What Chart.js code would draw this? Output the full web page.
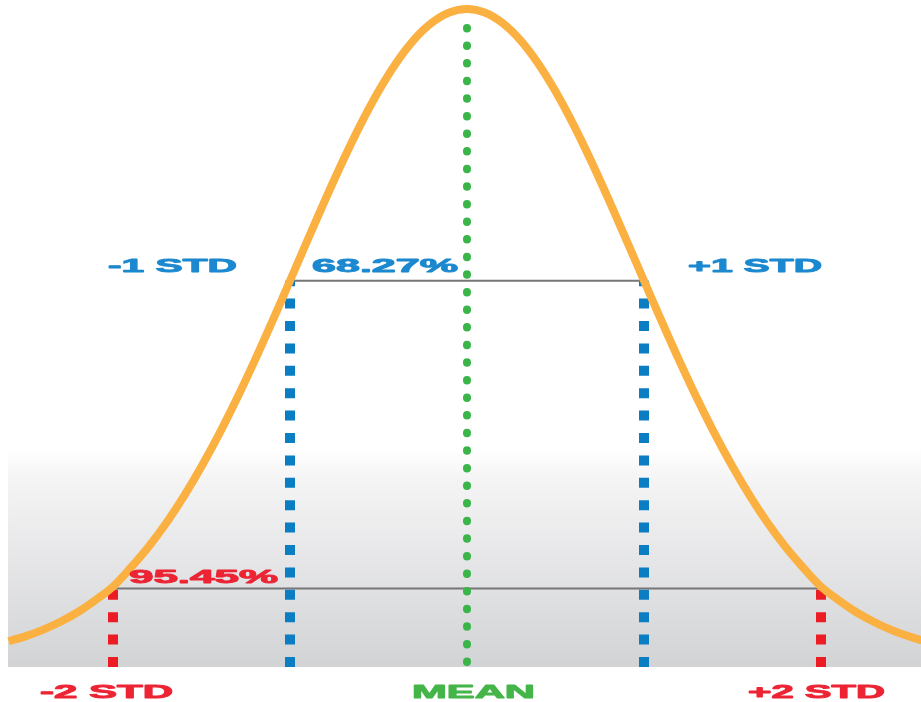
<!DOCTYPE html>
<html>
<head>
<meta charset="utf-8">
<script src="https://cdn.jsdelivr.net/npm/chart.js@4/dist/chart.umd.min.js"></script>
<style>
  html, body { margin: 0; padding: 0; background: #ffffff; }
  canvas { display: block; }
</style>
</head>
<body>
<canvas id="bell" width="921" height="702"></canvas>
<script>
// Bell curve: x in standard deviations from the mean, y as height relative to the peak
const curveX = [-2.59, -2.5, -2.4, -2.3, -2.2, -2.1, -2.0, -1.9, -1.8, -1.7, -1.6, -1.5, -1.4, -1.3,
  -1.2, -1.1, -1.0, -0.9, -0.8, -0.7, -0.6, -0.5, -0.4, -0.3, -0.2, -0.1, 0.0,
  0.1, 0.2, 0.3, 0.4, 0.5, 0.6, 0.7, 0.8, 0.9, 1.0, 1.1, 1.2, 1.3, 1.4, 1.5,
  1.6, 1.7, 1.8, 1.9, 2.0, 2.1, 2.2, 2.3, 2.4, 2.5, 2.57];
const curveY = [0.0258, 0.0330, 0.0430, 0.0555, 0.0705, 0.0890, 0.1100, 0.1390, 0.1710, 0.2075,
  0.2490, 0.2950, 0.3453, 0.3998, 0.4579, 0.5187, 0.5813, 0.6444, 0.7067, 0.7666, 0.8226,
  0.8732, 0.9169, 0.9524, 0.9785, 0.9946, 1.0000,
  0.9946, 0.9785, 0.9524, 0.9169, 0.8732, 0.8226, 0.7666, 0.7067, 0.6444, 0.5813,
  0.5187, 0.4579, 0.3998, 0.3453, 0.2950, 0.2490, 0.2075, 0.1710, 0.1390, 0.1100,
  0.0890, 0.0705, 0.0555, 0.0430, 0.0330, 0.0272];

// Guide positions (in standard deviations) and the levels where the guides stop
const meanAt = 0;
const oneStd = [-1, 1];
const twoStd = [-2, 2];
const oneStdLevel = 0.5813;   // bracket across ±1 std
const twoStdLevel = 0.107;    // bracket across ±2 std
const meanTop = 0.985;
const floorLevel = -0.0139;

// Text labels
const labelTexts = ['-1 STD', '68.27%', '+1 STD', '95.45%', '-2 STD', 'MEAN', '+2 STD'];

const ORANGE = '#fbb042';
const BLUE = '#0b7dc3';
const RED = '#ec1c24';
const GREEN = '#3bb54a';
const GRAY = '#767676';

const toPoints = (xs, ys) => xs.map((x, i) => ({ x, y: ys[i] }));
const vline = (x, y0, y1) => [{ x, y: y0 }, { x, y: y1 }];
const hline = (x0, x1, y) => [{ x: x0, y }, { x: x1, y }];

// Label styling and placement: left edge / baseline / width in canvas pixels
const labelLayout = [
  { color: '#1b88cf', left: 108, base: 272, width: 129 },
  { color: '#1b88cf', left: 312, base: 272, width: 146 },
  { color: '#1b88cf', left: 688, base: 272, width: 134 },
  { color: '#ec2434', left: 129, base: 583, width: 149 },
  { color: '#ec2434', left: 40, base: 698, width: 133 },
  { color: '#45b549', left: 412, base: 698, width: 123 },
  { color: '#ec2434', left: 748, base: 698, width: 137 }
];

// Shaded panel behind the lower part of the curve
const panelPlugin = {
  id: 'panel',
  beforeDatasetsDraw(chart) {
    const { ctx, scales: { x, y } } = chart;
    const left = x.getPixelForValue(-2.593);
    const right = chart.chartArea.right;
    const top = y.getPixelForValue(0.3236);
    const bottom = y.getPixelForValue(floorLevel);
    const g = ctx.createLinearGradient(0, top, 0, bottom);
    g.addColorStop(0, '#ffffff');
    g.addColorStop(0.15, '#f4f4f5');
    g.addColorStop(1, '#d2d3d5');
    ctx.save();
    ctx.fillStyle = g;
    ctx.fillRect(left, top, right - left, bottom - top);
    ctx.restore();
  }
};

// Wide, heavy captions
const captionPlugin = {
  id: 'captions',
  afterDatasetsDraw(chart) {
    const { ctx } = chart;
    ctx.save();
    ctx.font = 'bold 18px "Liberation Sans", Arial, sans-serif';
    ctx.textBaseline = 'alphabetic';
    ctx.textAlign = 'left';
    labelTexts.forEach((t, i) => {
      const L = labelLayout[i];
      const w = ctx.measureText(t).width;
      ctx.save();
      ctx.translate(L.left, L.base);
      ctx.scale(L.width / w, 1);
      ctx.fillStyle = L.color;
      ctx.strokeStyle = L.color;
      ctx.lineWidth = 0.9;
      ctx.lineJoin = 'round';
      ctx.fillText(t, 0, 0);
      ctx.strokeText(t, 0, 0);
      ctx.restore();
    });
    ctx.restore();
  }
};

const common = { pointRadius: 0, pointHoverRadius: 0, fill: false, tension: 0 };

new Chart(document.getElementById('bell'), {
  type: 'line',
  data: {
    datasets: [
      // curve on top
      { ...common, order: 0, data: toPoints(curveX, curveY), borderColor: ORANGE,
        borderWidth: 8, tension: 0.35, cubicInterpolationMode: 'default', borderCapStyle: 'butt' },
      // dotted guides
      { ...common, order: 1, data: vline(meanAt, -0.0062, meanTop), borderColor: GREEN,
        borderWidth: 8, borderDash: [0.5, 17.1], borderCapStyle: 'round' },
      { ...common, order: 2, data: vline(oneStd[0], floorLevel, oneStdLevel), borderColor: BLUE,
        borderWidth: 10, borderDash: [10, 12.4], borderCapStyle: 'butt' },
      { ...common, order: 2, data: vline(oneStd[1], floorLevel, oneStdLevel), borderColor: BLUE,
        borderWidth: 10, borderDash: [10, 12.4], borderCapStyle: 'butt' },
      { ...common, order: 2, data: vline(twoStd[0], floorLevel, twoStdLevel), borderColor: RED,
        borderWidth: 10, borderDash: [10, 12.4], borderCapStyle: 'butt' },
      { ...common, order: 2, data: vline(twoStd[1], floorLevel, twoStdLevel), borderColor: RED,
        borderWidth: 10, borderDash: [10, 12.4], borderCapStyle: 'butt' },
      // brackets
      { ...common, order: 3, data: hline(oneStd[0], oneStd[1], oneStdLevel), borderColor: GRAY, borderWidth: 2 },
      { ...common, order: 3, data: hline(twoStd[0], twoStd[1], twoStdLevel), borderColor: GRAY, borderWidth: 2 }
    ]
  },
  options: {
    responsive: false,
    devicePixelRatio: 1,
    animation: false,
    events: [],
    layout: { padding: 0 },
    plugins: { legend: { display: false }, tooltip: { enabled: false } },
    scales: {
      x: { type: 'linear', display: false, min: -2.6384, max: 2.5650 },
      y: { type: 'linear', display: false, min: -0.0678, max: 1.01387 }
    }
  },
  plugins: [panelPlugin, captionPlugin]
});
</script>
</body>
</html>
